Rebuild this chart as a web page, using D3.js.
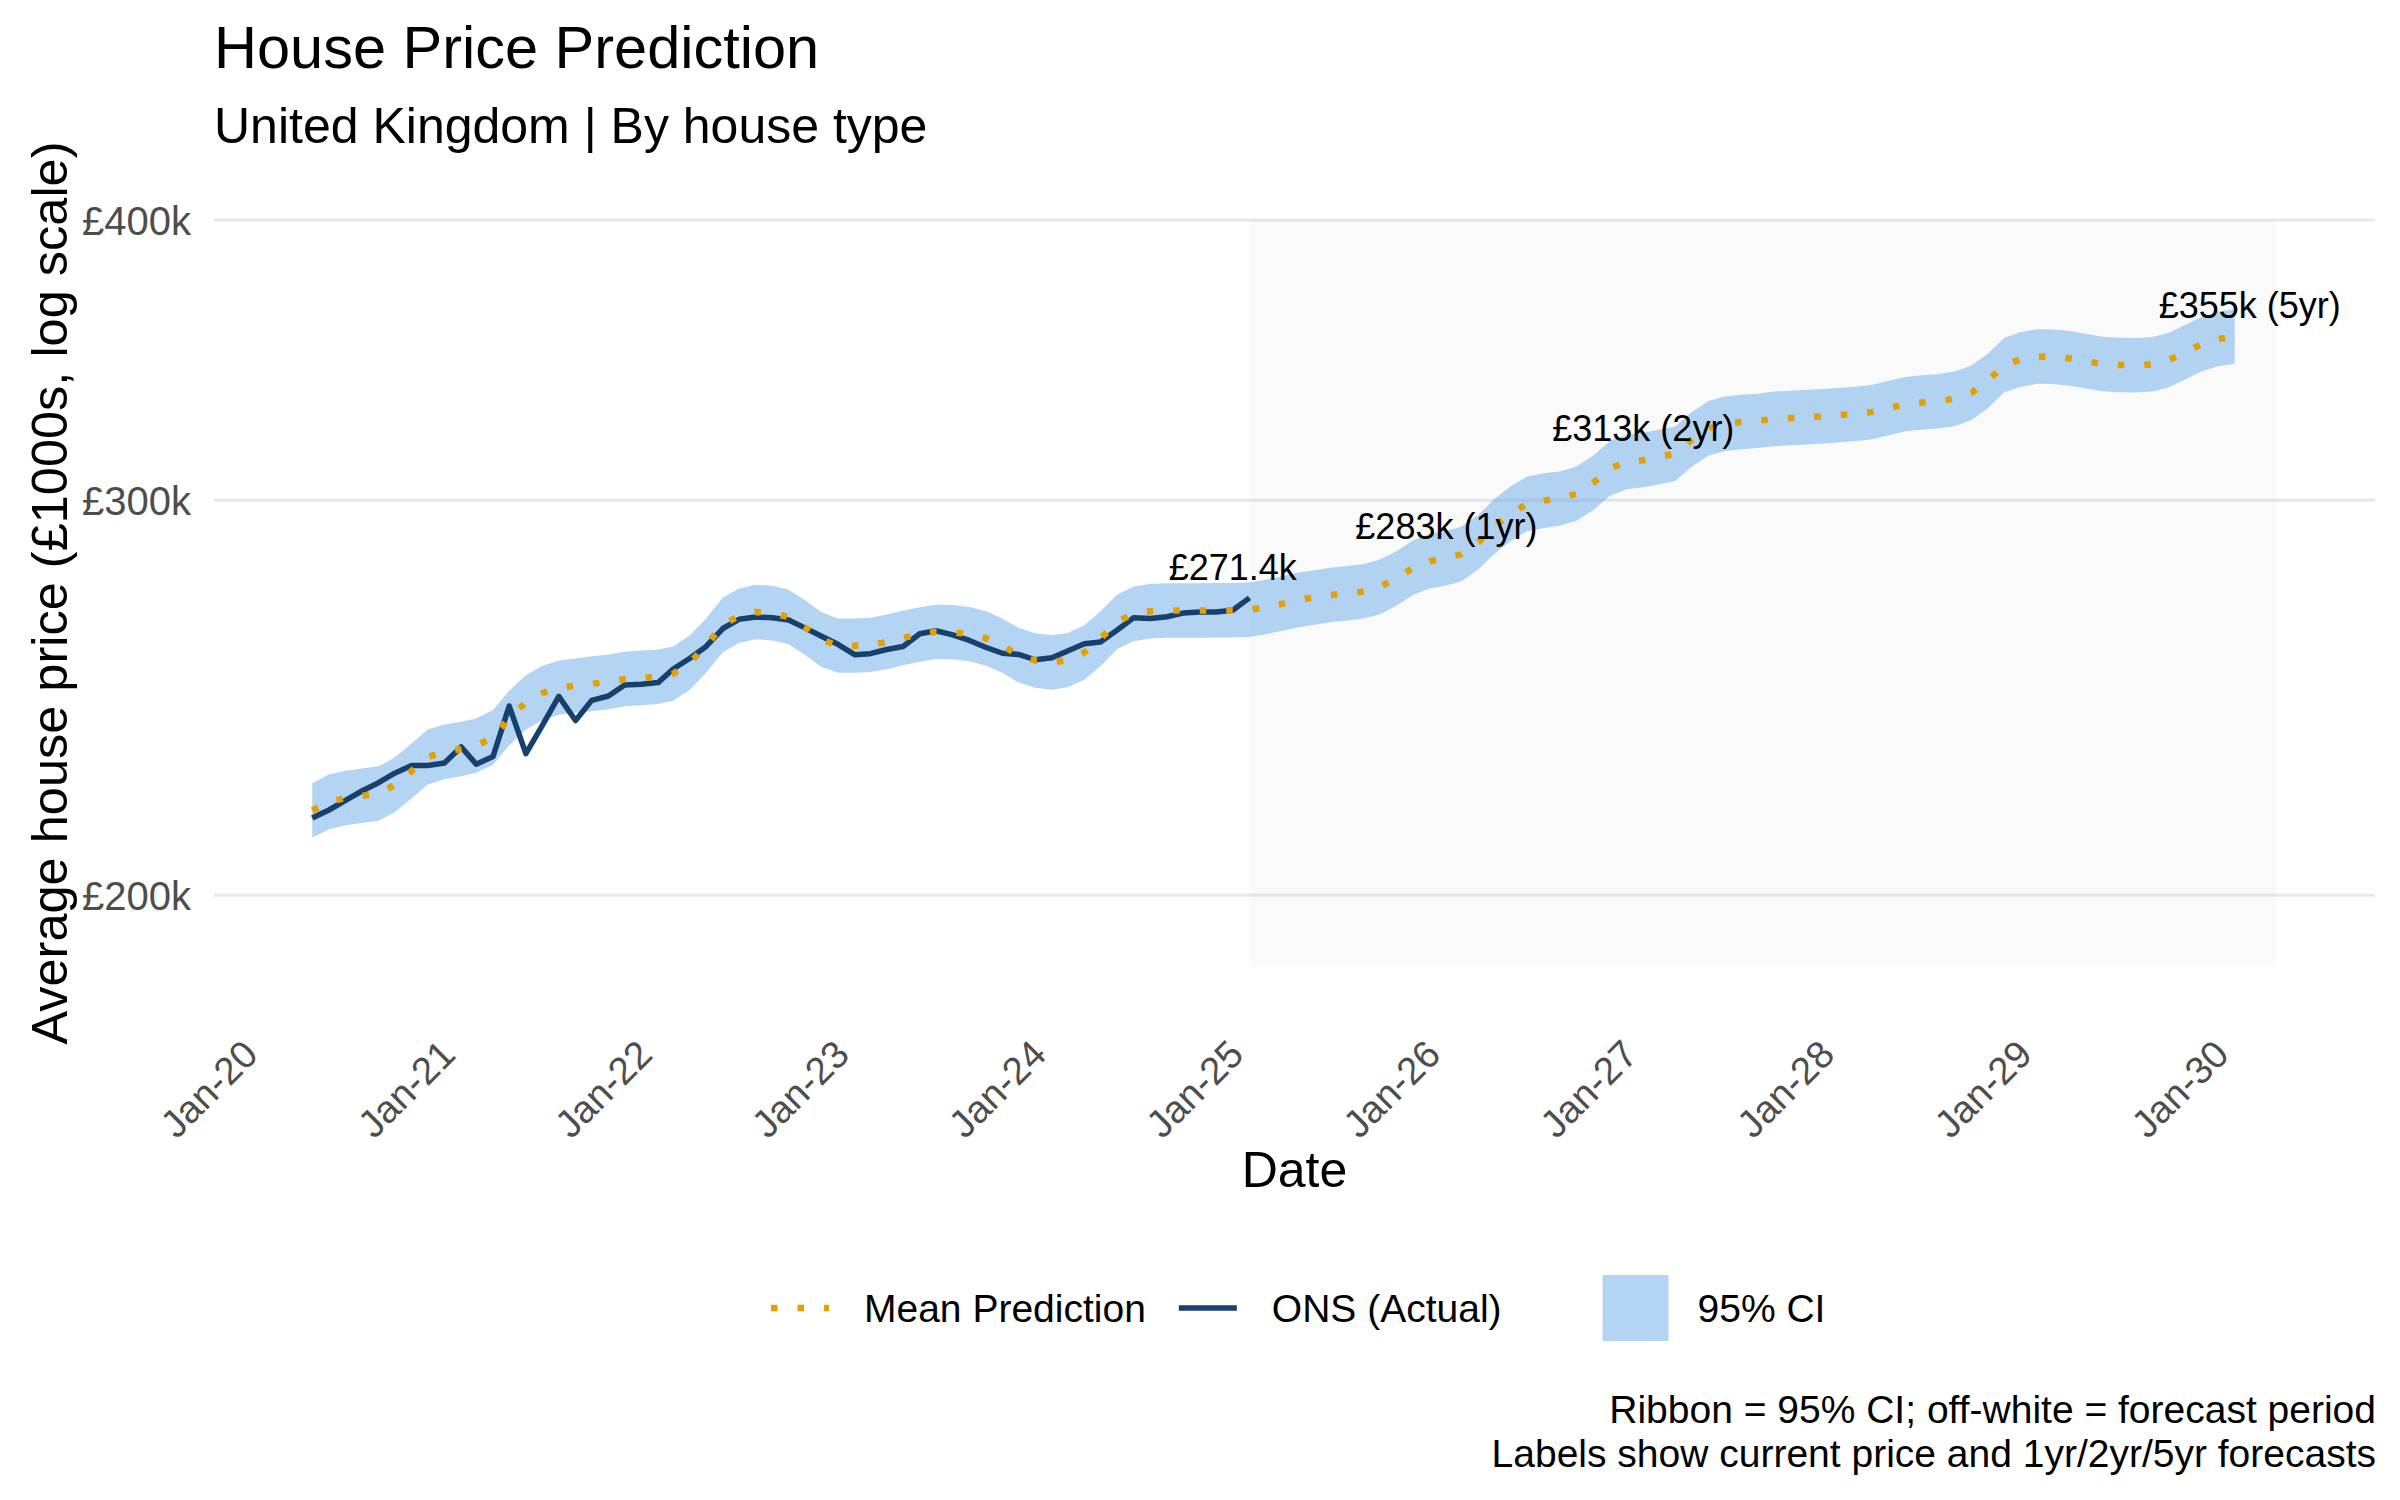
<!DOCTYPE html>
<html>
<head>
<meta charset="utf-8">
<script src="https://cdn.jsdelivr.net/npm/d3@7"></script>
<style>
  body { margin: 0; background: #fff; }
  svg { display: block; font-family: "Liberation Sans", Arial, sans-serif; }
</style>
</head>
<body>
<svg id="chart" width="2400" height="1500"></svg>
<script>
"use strict";

// ONS average price (£1000s), monthly from May 2020 to Feb 2025
const actualStart = "2020-05-01";
const actualValues = [
  216.5, 218.3, 220.4, 222.6, 224.5, 226.7, 228.5, 228.5,
  229.1, 232.9, 228.8, 230.6, 242.9, 231.3, 238.0, 245.3, 239.3, 244.3, 245.4, 248.2,
  248.4, 248.8, 252.3, 255.1, 258.2, 263.0, 265.5, 266.1, 265.9, 265.3, 263.1, 260.9,
  258.7, 256.0, 256.3, 257.4, 258.2, 261.6, 262.4, 261.3, 259.8, 258.0, 256.4, 256.1,
  254.7, 255.2, 257.0, 258.9, 259.4, 262.6, 265.9, 265.7, 266.2, 267.2, 267.5, 267.5,
  268.0, 271.4
];

// model mean + 95% CI, monthly from May 2020 to Feb 2030
const modelStart = "2020-05-01";
const meanValues = [
  218.2, 220.1, 221.0, 221.5, 222.0, 224.0, 227.2, 230.5,
  231.7, 232.4, 233.2, 235.2, 239.9, 243.8, 246.1, 247.5, 248.0, 248.5, 249.0, 249.7,
  250.0, 250.3, 251.1, 254.0, 258.4, 264.0, 266.4, 267.5, 267.2, 266.1, 263.2, 260.0,
  258.4, 258.4, 258.6, 259.4, 260.5, 261.4, 262.1, 262.0, 261.5, 260.4, 258.4, 255.9,
  254.5, 254.0, 254.6, 256.6, 260.3, 264.8, 267.0, 267.7, 267.9, 267.9, 267.9, 268.0,
  268.0, 268.1, 268.8, 269.7, 270.8, 271.5, 272.2, 272.7, 273.2, 274.5, 276.9, 279.9,
  281.8, 282.7, 283.9, 287.3, 292.1, 296.0, 298.9, 299.9, 300.6, 302.1, 305.5, 310.0,
  312.0, 312.6, 313.6, 314.7, 319.2, 322.9, 324.5, 325.1, 325.5, 326.1, 326.4, 326.7,
  327.0, 327.4, 327.8, 328.5, 329.8, 331.1, 331.7, 332.1, 333.0, 335.0, 339.2, 344.7,
  346.7, 347.7, 347.6, 347.0, 346.1, 345.0, 344.7, 344.6, 344.9, 346.4, 349.2, 352.1,
  354.0, 354.9
];
const ciLower = [
  212.2, 214.0, 214.9, 215.4, 215.9, 217.8, 220.9, 224.1,
  225.3, 226.0, 226.8, 228.7, 233.3, 237.1, 239.3, 240.7, 241.2, 241.6, 242.1, 242.8,
  243.1, 243.4, 244.2, 247.0, 251.3, 256.7, 259.1, 260.1, 259.8, 258.8, 255.9, 252.8,
  251.3, 251.3, 251.5, 252.2, 253.3, 254.2, 254.9, 254.8, 254.3, 253.2, 251.3, 248.8,
  247.5, 247.0, 247.6, 249.5, 253.1, 257.5, 259.6, 260.3, 260.5, 260.5, 260.5, 260.6,
  260.6, 260.7, 261.4, 262.3, 263.3, 264.0, 264.7, 265.2, 265.7, 266.9, 269.3, 272.2,
  274.0, 274.9, 276.1, 279.4, 284.0, 287.8, 290.7, 291.6, 292.3, 293.8, 297.1, 301.4,
  303.4, 304.0, 304.9, 306.0, 310.4, 314.0, 315.5, 316.1, 316.5, 317.1, 317.4, 317.7,
  318.0, 318.4, 318.8, 319.4, 320.7, 322.0, 322.5, 322.9, 323.8, 325.8, 329.8, 335.2,
  337.1, 338.1, 338.0, 337.4, 336.5, 335.5, 335.2, 335.1, 335.4, 336.8, 339.6, 342.4,
  344.2, 345.1
];
const ciUpper = [
  224.4, 226.4, 227.3, 227.8, 228.3, 230.4, 233.7, 237.1,
  238.3, 239.0, 239.8, 241.9, 246.7, 250.7, 253.1, 254.5, 255.0, 255.6, 256.1, 256.8,
  257.1, 257.4, 258.2, 261.2, 265.7, 271.5, 274.0, 275.1, 274.8, 273.7, 270.7, 267.4,
  265.7, 265.7, 265.9, 266.8, 267.9, 268.8, 269.5, 269.4, 268.9, 267.8, 265.7, 263.2,
  261.7, 261.2, 261.8, 263.9, 267.7, 272.3, 274.6, 275.3, 275.5, 275.5, 275.5, 275.6,
  275.6, 275.7, 276.4, 277.4, 278.5, 279.2, 279.9, 280.4, 281.0, 282.3, 284.8, 287.9,
  289.8, 290.7, 292.0, 295.5, 300.4, 304.4, 307.4, 308.4, 309.1, 310.7, 314.2, 318.8,
  320.9, 321.5, 322.5, 323.6, 328.3, 332.1, 333.7, 334.3, 334.7, 335.4, 335.7, 336.0,
  336.3, 336.7, 337.1, 337.8, 339.2, 340.5, 341.1, 341.5, 342.5, 344.5, 348.8, 354.5,
  356.6, 357.6, 357.5, 356.9, 355.9, 354.8, 354.5, 354.4, 354.7, 356.2, 359.1, 362.1,
  364.1, 365.0
];

const forecastStart = "2025-02-01";
const forecastEnd = "2030-04-20";

const labelDates = ["2025-01-01", "2026-02-01", "2027-02-01", "2030-03-01"];
const labelValues = [271.4, 283, 313, 355];
const labelTexts = ["£271.4k", "£283k (1yr)", "£313k (2yr)", "£355k (5yr)"];

const yTicks = [200, 300, 400];
const xTickDates = ["2020-01-01", "2021-01-01", "2022-01-01", "2023-01-01", "2024-01-01",
  "2025-01-01", "2026-01-01", "2027-01-01", "2028-01-01", "2029-01-01", "2030-01-01"];

const legendLines = ["Mean Prediction", "ONS (Actual)"];
const legendFill = "95% CI";
const captionLines = [
  "Ribbon = 95% CI; off-white = forecast period",
  "Labels show current price and 1yr/2yr/5yr forecasts"
];

const colours = { mean: "#E69F00", actual: "#17406D", ribbon: "#6AA9E9" };

const parse = d3.timeParse("%Y-%m-%d");
const byMonth = (start, values) =>
  values.map((v, i) => ({ date: d3.timeMonth.offset(parse(start), i), value: v }));

const actual = byMonth(actualStart, actualValues);
const mean = byMonth(modelStart, meanValues);
const band = mean.map((d, i) => ({ date: d.date, lo: ciLower[i], hi: ciUpper[i] }));

const width = 2400, height = 1500;
const margin = { top: 220, right: 25, bottom: 534, left: 214 };
const panelBottom = height - margin.bottom;

const xMin = d3.min(actual, d => d.date);
const xMax = parse(forecastEnd);
const pad = (xMax - xMin) * 0.05;
const x = d3.scaleTime()
  .domain([new Date(+xMin - pad), new Date(+xMax + pad)])
  .range([margin.left, width - margin.right]);
const y = d3.scaleLog()
  .domain([186, 400])
  .range([panelBottom, margin.top]);

const svg = d3.select("#chart");
svg.append("rect").attr("width", width).attr("height", height).attr("fill", "#fff");

// gridlines
svg.append("g")
  .selectAll("line")
  .data(yTicks)
  .enter().append("line")
    .attr("x1", margin.left)
    .attr("x2", width - margin.right)
    .attr("y1", d => y(d))
    .attr("y2", d => y(d))
    .attr("stroke", "#E8E8E8")
    .attr("stroke-width", 3);

// forecast period shading
svg.append("rect")
  .attr("x", x(parse(forecastStart)))
  .attr("width", x(parse(forecastEnd)) - x(parse(forecastStart)))
  .attr("y", margin.top)
  .attr("height", panelBottom - margin.top)
  .attr("fill", "#000")
  .attr("fill-opacity", 0.02);

// ribbon
svg.append("path")
  .datum(band)
  .attr("d", d3.area().x(d => x(d.date)).y0(d => y(d.lo)).y1(d => y(d.hi)))
  .attr("fill", colours.ribbon)
  .attr("fill-opacity", 0.5);

// actual
svg.append("path")
  .datum(actual)
  .attr("d", d3.line().x(d => x(d.date)).y(d => y(d.value)))
  .attr("fill", "none")
  .attr("stroke", colours.actual)
  .attr("stroke-width", 5.5)
  .attr("stroke-linejoin", "round");

// mean prediction
svg.append("path")
  .datum(mean)
  .attr("d", d3.line().x(d => x(d.date)).y(d => y(d.value)))
  .attr("fill", "none")
  .attr("stroke", colours.mean)
  .attr("stroke-width", 6.5)
  .attr("stroke-dasharray", "6.5 20");

// price labels
svg.append("g")
  .selectAll("text")
  .data(labelTexts)
  .enter().append("text")
    .attr("x", (d, i) => x(parse(labelDates[i])))
    .attr("y", (d, i) => y(labelValues[i]) - 18)
    .attr("text-anchor", "middle")
    .attr("font-size", 36)
    .attr("fill", "#000")
    .text(d => d);

// x axis
const xAxis = svg.append("g")
  .attr("transform", `translate(0,1030)`)
  .call(d3.axisBottom(x)
    .tickValues(xTickDates.map(parse))
    .tickFormat(d3.timeFormat("%b-%y"))
    .tickSize(0));
xAxis.select(".domain").remove();
xAxis.selectAll("text")
  .attr("x", -10)
  .attr("y", 0)
  .attr("dy", "0.72em")
  .attr("transform", "rotate(-45)")
  .attr("text-anchor", "end")
  .attr("font-size", 38.5)
  .attr("font-family", null)
  .attr("fill", "#4D4D4D");

// y axis
const yAxis = svg.append("g")
  .attr("transform", `translate(${margin.left},0)`)
  .call(d3.axisLeft(y)
    .tickValues(yTicks)
    .tickFormat(d => `£${d}k`)
    .tickSize(0)
    .tickPadding(23));
yAxis.select(".domain").remove();
yAxis.selectAll("text")
  .attr("dy", "0.35em")
  .attr("font-size", 40)
  .attr("font-family", null)
  .attr("fill", "#4D4D4D");

// axis titles
svg.append("text")
  .attr("x", (margin.left + width - margin.right) / 2)
  .attr("y", 1187)
  .attr("text-anchor", "middle")
  .attr("font-size", 50)
  .text("Date");

svg.append("text")
  .attr("transform", `translate(67,${(margin.top + panelBottom) / 2}) rotate(-90)`)
  .attr("text-anchor", "middle")
  .attr("font-size", 50.5)
  .text("Average house price (£1000s, log scale)");

// title
svg.append("text")
  .attr("x", margin.left)
  .attr("y", 68)
  .attr("font-size", 59.5)
  .text("House Price Prediction");
svg.append("text")
  .attr("x", margin.left)
  .attr("y", 143)
  .attr("font-size", 50)
  .text("United Kingdom | By house type");

// legend
const legendY = 1308;
const legend = svg.append("g").attr("font-size", 39);
let lx = 771;
const keyW = 58;

legendLines.forEach((name, i) => {
  const key = legend.append("line")
    .attr("x1", lx).attr("x2", lx + keyW)
    .attr("y1", legendY).attr("y2", legendY)
    .attr("stroke", i === 0 ? colours.mean : colours.actual)
    .attr("stroke-width", i === 0 ? 6.5 : 5.5);
  if (i === 0) key.attr("stroke-dasharray", "6.5 20");
  const t = legend.append("text")
    .attr("x", lx + keyW + 35)
    .attr("y", legendY)
    .attr("dy", "0.37em")
    .text(name);
  lx = lx + keyW + 35 + t.node().getComputedTextLength() + 33;
});

lx += 68;
legend.append("rect")
  .attr("x", lx).attr("y", legendY - 33)
  .attr("width", 66).attr("height", 66)
  .attr("fill", colours.ribbon)
  .attr("fill-opacity", 0.5);
legend.append("text")
  .attr("x", lx + 66 + 29)
  .attr("y", legendY)
  .attr("dy", "0.37em")
  .text(legendFill);

// caption
svg.append("g")
  .selectAll("text")
  .data(captionLines)
  .enter().append("text")
    .attr("x", 2376)
    .attr("y", (d, i) => 1423 + i * 44)
    .attr("text-anchor", "end")
    .attr("font-size", 39)
    .text(d => d);
</script>
</body>
</html>
